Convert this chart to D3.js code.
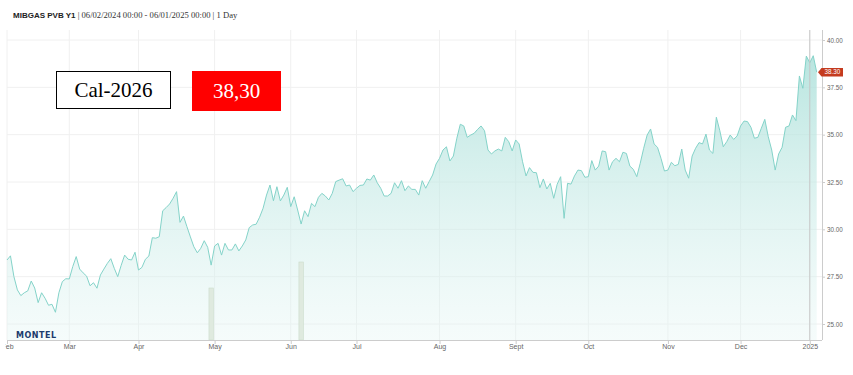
<!DOCTYPE html>
<html>
<head>
<meta charset="utf-8">
<script src="https://cdn.jsdelivr.net/npm/d3@7"></script>
<style>
  body { margin: 0; background: #fff; }
  svg { display: block; }
  .axis text { font-family: "Liberation Sans", Arial, sans-serif; fill: #666; }
  .axis line, .axis path { stroke: #ccc; }
</style>
</head>
<body>
<div id="chart"></div>
<script>
// MIBGAS PVB Y1 (Cal-2026), one value per trading day, Feb 2024 -> Jan 2025
const prices = [
  28.38, 28.6, 27.5, 26.8, 26.5, 26.65, 26.75, 27.27, 26.9, 26.13,
  26.65, 26.36, 25.99, 26.04, 25.62, 26.65, 27.24, 27.39, 27.38, 28.03,
  28.56, 27.9, 27.7, 27.53, 27.02, 27.18, 26.89, 27.59, 27.9, 28.2,
  28.45, 27.94, 27.5, 28.1, 28.64, 28.42, 28.38, 28.79, 27.85, 27.99,
  28.42, 28.59, 29.56, 29.53, 29.61, 30.98, 31.15, 31.34, 31.64, 31.99,
  30.37, 30.7, 30.14, 29.6, 29.08, 28.76, 29.0, 29.4, 29.05, 28.11,
  29.12, 29.26, 28.64, 29.26, 28.91, 28.91, 29.23, 28.86, 29.12, 29.44,
  30.09, 30.23, 30.27, 30.64, 31.11, 31.81, 32.34, 31.51, 32.25, 31.5,
  31.81, 32.22, 31.2, 31.72, 31.02, 30.28, 30.98, 30.67, 31.37, 31.2,
  31.69, 31.9, 31.76, 31.55, 31.9, 32.52, 32.6, 32.67, 32.29, 32.34,
  31.99, 32.17, 32.32, 32.34, 32.66, 32.6, 32.87, 32.46, 32.17, 31.76,
  31.76, 31.9, 32.46, 32.17, 32.57, 32.04, 32.29, 32.11, 32.11, 31.81,
  32.57, 32.17, 32.52, 32.87, 33.45, 33.75, 34.19, 34.36, 33.61, 33.87,
  34.81, 35.55, 35.46, 34.86, 34.98, 35.07, 35.28, 35.46, 35.21, 34.19,
  33.98, 34.14, 34.24, 34.14, 34.86, 34.63, 34.14, 34.72, 34.51, 33.57,
  32.82, 33.26, 33.01, 32.99, 32.2, 32.66, 32.13, 32.43, 31.64, 32.38,
  32.78, 30.58, 32.43, 32.39, 32.82, 33.13, 33.1, 32.75, 32.78, 33.63,
  33.13, 33.34, 34.14, 34.1, 33.13, 33.57, 33.75, 33.57, 34.07, 34.01,
  33.34, 33.17, 32.78, 33.49, 34.28, 34.98, 35.3, 34.51, 34.33, 33.75,
  33.08, 33.13, 33.54, 33.36, 33.43, 34.24, 33.13, 32.7, 33.87, 34.28,
  34.58, 34.51, 35.03, 34.19, 34.01, 35.92, 35.21, 34.36, 34.63, 34.98,
  34.75, 34.93, 35.46, 35.72, 35.69, 35.39, 34.81, 34.86, 35.34, 35.81,
  34.89, 34.19, 33.13, 33.98, 34.33, 35.39, 35.46, 36.04, 35.74, 38.1,
  37.45, 39.15, 38.8, 39.17, 38.3
];

// x axis: label and index of first trading day in the month
const monthLabels = ["Feb", "Mar", "Apr", "May", "Jun", "Jul", "Aug", "Sept", "Oct", "Nov", "Dec", "2025"];
const monthTickIndex = [0, 18, 38, 60, 82, 101, 125, 147, 168, 191, 212, 232];

const yTicks = [25, 27.5, 30, 32.5, 35, 37.5, 40];

// volume bars (only two days traded volume)
const volumeIndex = [59, 85];
const volumeValues = [2, 3];

const contractName = "Cal-2026";
const titleBold = "MIBGAS PVB Y1";
const titleRest = " | 06/02/2024 00:00 - 06/01/2025 00:00 | 1 Day";

const width = 853, height = 375;
const plotLeft = 7, plotRight = 822, plotTop = 30, plotBottom = 340;

const svg = d3.select("#chart").append("svg")
    .attr("width", width)
    .attr("height", height);

const xScale = d3.scaleLinear()
    .domain([0, prices.length - 1])
    .range([plotLeft, 816.7]);

const yScale = d3.scaleLinear()
    .domain([25, 40])
    .range([324, 40]);

const volScale = d3.scaleLinear()
    .domain([0, 12])
    .range([plotBottom, 28]);

const defs = svg.append("defs");

// gradient for the area
const grad = defs.append("linearGradient")
    .attr("id", "areaGrad")
    .attr("gradientUnits", "userSpaceOnUse")
    .attr("x1", 0).attr("x2", 0)
    .attr("y1", plotTop).attr("y2", plotBottom);
grad.append("stop").attr("offset", "0%").attr("stop-color", "#a3ddd6").attr("stop-opacity", 0.85);
grad.append("stop").attr("offset", "100%").attr("stop-color", "#e3f5f3").attr("stop-opacity", 0.35);

// labels overflowing the left edge get cut (like the "Feb" label)
defs.append("clipPath")
    .attr("id", "labelClip")
    .append("rect")
    .attr("x", 5.5).attr("y", 0)
    .attr("width", width).attr("height", height);

// grid
svg.append("g")
    .selectAll("line")
    .data(yTicks)
    .join("line")
    .attr("x1", plotLeft)
    .attr("x2", plotRight)
    .attr("y1", d => yScale(d))
    .attr("y2", d => yScale(d))
    .attr("stroke", "#f0f0f0");

svg.append("g")
    .selectAll("line")
    .data(monthTickIndex)
    .join("line")
    .attr("x1", d => xScale(d))
    .attr("x2", d => xScale(d))
    .attr("y1", plotTop)
    .attr("y2", plotBottom)
    .attr("stroke", "#f0f0f0");

// area + line
const area = d3.area()
    .x((d, i) => xScale(i))
    .y0(plotBottom)
    .y1(d => yScale(d));

svg.append("path")
    .attr("fill", "url(#areaGrad)")
    .attr("d", area(prices));

const line = d3.line()
    .curve(d3.curveLinear)
    .x((d, i) => xScale(i))
    .y(d => yScale(d));

svg.append("path")
    .attr("fill", "none")
    .attr("stroke", "#84d3c9")
    .attr("stroke-width", 1)
    .attr("d", line(prices));

// volume bars
svg.append("g")
    .selectAll("rect")
    .data(volumeIndex)
    .join("rect")
    .attr("x", d => xScale(d) - 2.2)
    .attr("width", 4.4)
    .attr("y", (d, i) => volScale(volumeValues[i]))
    .attr("height", (d, i) => plotBottom - volScale(volumeValues[i]))
    .attr("fill", "#dfeadf")
    .attr("stroke", "#cbdccb")
    .attr("stroke-width", 0.6);

// crosshair at year start
svg.append("line")
    .attr("x1", xScale(monthTickIndex[monthTickIndex.length - 1]))
    .attr("x2", xScale(monthTickIndex[monthTickIndex.length - 1]))
    .attr("y1", plotTop)
    .attr("y2", plotBottom)
    .attr("stroke", "#c8c8c8");

// x axis
const xAxis = svg.append("g")
    .classed("axis", true)
    .attr("transform", `translate(0,${plotBottom})`)
    .attr("clip-path", "url(#labelClip)")
    .call(d3.axisBottom(xScale)
        .tickValues(monthTickIndex)
        .tickFormat((d, i) => monthLabels[i])
        .tickSize(4)
        .tickSizeOuter(0));
xAxis.select(".domain").attr("d", `M${plotLeft},0.5H${plotRight}`);
xAxis.selectAll("text").attr("font-size", 7).attr("dy", "0.55em").attr("y", 5);

// y axis on the right
const yAxis = svg.append("g")
    .classed("axis", true)
    .attr("transform", `translate(${plotRight},0)`)
    .call(d3.axisRight(yScale)
        .tickValues(yTicks)
        .tickFormat(d3.format(".2f"))
        .tickSize(3)
        .tickPadding(2));
yAxis.select(".domain").attr("d", `M0.5,${plotTop}V${plotBottom}`);
yAxis.selectAll("text").attr("font-size", 6.3);

// last price flag
const last = prices[prices.length - 1];
const ly = yScale(last);
svg.append("path")
    .attr("d", `M818,${ly} L821.5,${ly - 4.2} H843 V${ly + 4.2} H821.5 Z`)
    .attr("fill", "#c43b1f");
svg.append("text")
    .attr("x", 832.5)
    .attr("y", ly)
    .attr("dy", "0.35em")
    .attr("text-anchor", "middle")
    .attr("font-family", "Liberation Sans, Arial, sans-serif")
    .attr("font-size", 6.3)
    .attr("fill", "#fff")
    .text(d3.format(".2f")(last));

// title
const title = svg.append("text")
    .attr("x", 13)
    .attr("y", 17.5)
    .attr("fill", "#222");
title.append("tspan")
    .attr("font-family", "Liberation Sans, Arial, sans-serif")
    .attr("font-weight", "bold")
    .attr("font-size", 8)
    .text(titleBold);
title.append("tspan")
    .attr("font-family", "Liberation Serif, Georgia, serif")
    .attr("font-size", 8.6)
    .attr("fill", "#333")
    .text(titleRest);

// logo
svg.append("text")
    .attr("x", 16)
    .attr("y", 337.5)
    .attr("font-family", "DejaVu Sans, sans-serif")
    .attr("font-weight", "bold")
    .attr("font-size", 8)
    .attr("textLength", 40)
    .attr("fill", "#1c3a6c")
    .text("MONTEL");

// contract / price boxes
svg.append("rect")
    .attr("x", 56.5).attr("y", 71.5)
    .attr("width", 114).attr("height", 37)
    .attr("fill", "#fff")
    .attr("stroke", "#000")
    .attr("stroke-width", 1);
svg.append("text")
    .attr("x", 113.5).attr("y", 90)
    .attr("dy", "0.35em")
    .attr("text-anchor", "middle")
    .attr("font-family", "Liberation Serif, serif")
    .attr("font-size", 21)
    .attr("fill", "#000")
    .text(contractName);

svg.append("rect")
    .attr("x", 192).attr("y", 71)
    .attr("width", 89).attr("height", 40)
    .attr("fill", "#ff0000");
svg.append("text")
    .attr("x", 236.5).attr("y", 91)
    .attr("dy", "0.35em")
    .attr("text-anchor", "middle")
    .attr("font-family", "Liberation Serif, serif")
    .attr("font-size", 21)
    .attr("fill", "#fff")
    .text(d3.format(".2f")(last).replace(".", ","));
</script>
</body>
</html>
